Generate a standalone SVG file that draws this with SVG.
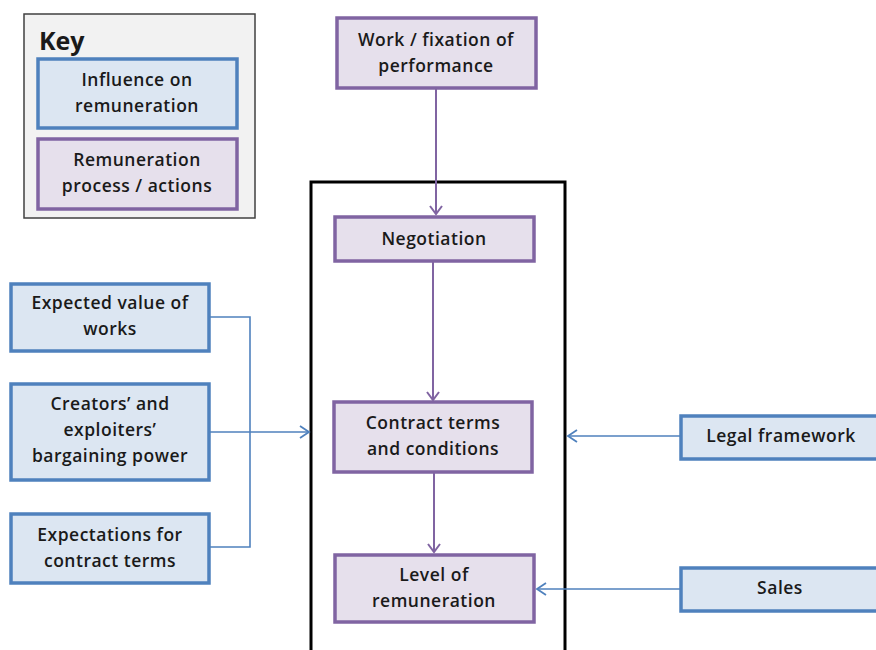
<svg xmlns="http://www.w3.org/2000/svg" width="876" height="650" viewBox="0 0 876 650">
<style>
.inf{fill:#dce6f2;stroke:#4f81bd;stroke-width:3.5}
.proc{fill:#e6e0ec;stroke:#8064a2;stroke-width:3.5}
.t{font-family:"Open Sans","Liberation Sans",sans-serif;font-weight:600;font-size:17.5px;letter-spacing:0.5px;fill:#1a1a1a;text-anchor:middle}
.cp{fill:none;stroke:#8064a2;stroke-width:2}
.cb{fill:none;stroke:#4f81bd;stroke-width:1.6}
</style>
<defs>
<marker id="ap" markerWidth="14" markerHeight="14" viewBox="-12 -7 14 14" refX="0" refY="0" orient="auto" markerUnits="userSpaceOnUse">
<path d="M-8,-6 L0,0 L-8,6" fill="none" stroke="#8064a2" stroke-width="2"/>
</marker>
<marker id="ab" markerWidth="14" markerHeight="14" viewBox="-12 -7 14 14" refX="0" refY="0" orient="auto" markerUnits="userSpaceOnUse">
<path d="M-9,-6 L0,0 L-9,6" fill="none" stroke="#4f81bd" stroke-width="1.8"/>
</marker>
</defs>
<rect width="876" height="650" fill="#ffffff"/>

<g id="key">
<rect x="24" y="14" width="231" height="204" fill="#f2f2f2" stroke="#404040" stroke-width="1.5"/>
<text x="39" y="50" font-family="'Open Sans','Liberation Sans',sans-serif" font-weight="700" font-size="25" fill="#1a1a1a">Key</text>
</g>
<g id="key-influence">
<rect class="inf" x="38" y="59" width="199" height="69"/>
<text class="t" x="137" y="86">Influence on</text>
<text class="t" x="137" y="112">remuneration</text>
</g>
<g id="key-process">
<rect class="proc" x="38" y="139" width="199" height="70"/>
<text class="t" x="137" y="166">Remuneration</text>
<text class="t" x="137" y="192">process / actions</text>
</g>

<g id="process-frame">
<rect x="311" y="182" width="254" height="480" fill="none" stroke="#000000" stroke-width="3"/>
</g>

<g id="connectors">
<path class="cp" d="M436,89 V214" marker-end="url(#ap)"/>
<path class="cp" d="M433,262 V400" marker-end="url(#ap)"/>
<path class="cp" d="M434,472 V552" marker-end="url(#ap)"/>
<path class="cb" d="M210,317 H250 V547 H210"/>
<path class="cb" d="M210,432 H309" marker-end="url(#ab)"/>
<path class="cb" d="M680,436 H568" marker-end="url(#ab)"/>
<path class="cb" d="M680,589 H537" marker-end="url(#ab)"/>
</g>

<g id="work">
<rect class="proc" x="337" y="18" width="199" height="70"/>
<text class="t" x="436" y="46">Work / fixation of</text>
<text class="t" x="436" y="72">performance</text>
</g>
<g id="negotiation">
<rect class="proc" x="335" y="217" width="199" height="44"/>
<text class="t" x="434" y="245">Negotiation</text>
</g>
<g id="contract">
<rect class="proc" x="334" y="402" width="198" height="70"/>
<text class="t" x="433" y="429">Contract terms</text>
<text class="t" x="433" y="455">and conditions</text>
</g>
<g id="level">
<rect class="proc" x="335" y="555" width="199" height="67"/>
<text class="t" x="434" y="581">Level of</text>
<text class="t" x="434" y="607">remuneration</text>
</g>
<g id="expected-value">
<rect class="inf" x="11" y="284" width="198" height="67"/>
<text class="t" x="110" y="309">Expected value of</text>
<text class="t" x="110" y="335">works</text>
</g>
<g id="bargaining">
<rect class="inf" x="11" y="384" width="198" height="96"/>
<text class="t" x="110" y="410">Creators’ and</text>
<text class="t" x="110" y="436">exploiters’</text>
<text class="t" x="110" y="462">bargaining power</text>
</g>
<g id="expectations">
<rect class="inf" x="11" y="514" width="198" height="69"/>
<text class="t" x="110" y="541">Expectations for</text>
<text class="t" x="110" y="567">contract terms</text>
</g>
<g id="legal">
<rect class="inf" x="681" y="416" width="200" height="43"/>
<text class="t" x="781" y="442">Legal framework</text>
</g>
<g id="sales">
<rect class="inf" x="681" y="568" width="200" height="43"/>
<text class="t" x="780" y="594">Sales</text>
</g>
</svg>
